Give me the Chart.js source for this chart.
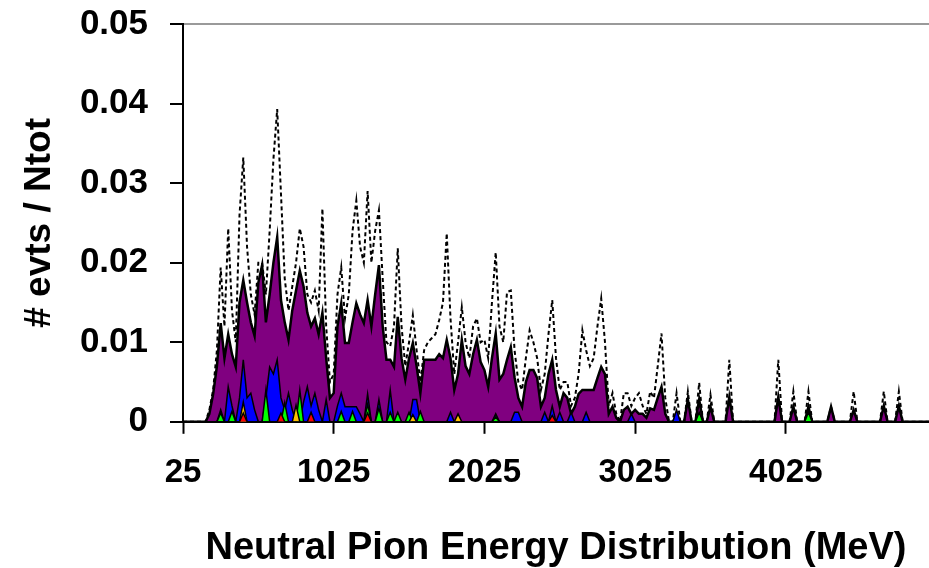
<!DOCTYPE html>
<html>
<head>
<meta charset="utf-8">
<title>Neutral Pion Energy Distribution</title>
<script src="https://cdn.jsdelivr.net/npm/chart.js@4.4.1/dist/chart.umd.min.js"></script>
<style>
  html, body { margin: 0; padding: 0; background: #fff; }
  #wrap { width: 929px; height: 568px; }
</style>
</head>
<body>
<div id="wrap"><canvas id="myChart" width="929" height="568"></canvas></div>
<script>
// energy bins, 25 MeV wide
var energies = [
  25, 50, 75, 100, 125, 150, 175, 200, 225, 250,
  275, 300, 325, 350, 375, 400, 425, 450, 475, 500,
  525, 550, 575, 600, 625, 650, 675, 700, 725, 750,
  775, 800, 825, 850, 875, 900, 925, 950, 975, 1000,
  1025, 1050, 1075, 1100, 1125, 1150, 1175, 1200, 1225, 1250,
  1275, 1300, 1325, 1350, 1375, 1400, 1425, 1450, 1475, 1500,
  1525, 1550, 1575, 1600, 1625, 1650, 1675, 1700, 1725, 1750,
  1775, 1800, 1825, 1850, 1875, 1900, 1925, 1950, 1975, 2000,
  2025, 2050, 2075, 2100, 2125, 2150, 2175, 2200, 2225, 2250,
  2275, 2300, 2325, 2350, 2375, 2400, 2425, 2450, 2475, 2500,
  2525, 2550, 2575, 2600, 2625, 2650, 2675, 2700, 2725, 2750,
  2775, 2800, 2825, 2850, 2875, 2900, 2925, 2950, 2975, 3000,
  3025, 3050, 3075, 3100, 3125, 3150, 3175, 3200, 3225, 3250,
  3275, 3300, 3325, 3350, 3375, 3400, 3425, 3450, 3475, 3500,
  3525, 3550, 3575, 3600, 3625, 3650, 3675, 3700, 3725, 3750,
  3775, 3800, 3825, 3850, 3875, 3900, 3925, 3950, 3975, 4000,
  4025, 4050, 4075, 4100, 4125, 4150, 4175, 4200, 4225, 4250,
  4275, 4300, 4325, 4350, 4375, 4400, 4425, 4450, 4475, 4500,
  4525, 4550, 4575, 4600, 4625, 4650, 4675, 4700, 4725, 4750,
  4775, 4800, 4825, 4850, 4875, 4900, 4925, 4950, 4975
];

// labelled energies on the x axis
var xTickLabels = ["25", "1025", "2025", "3025", "4025"];
var yTicks = [0, 0.01, 0.02, 0.03, 0.04, 0.05];

// all events (dashed)
var allEvts = [
  0, 0, 0, 0, 0, 0, 0, .0015, .0040, .0090,
  .0194, .0120, .0243, .0140, .0100, .0260, .0332, .0220, .0160, .0135,
  .0200, .0200, .0160, .0240, .0330, .0393, .0287, .0180, .0140, .0170,
  .0200, .0243, .0220, .0160, .0150, .0165, .0140, .0268, .0120, .0050,
  .0060, .0160, .0194, .0130, .0160, .0240, .0278, .0220, .0200, .0290,
  .0200, .0240, .0266, .0180, .0100, .0095, .0120, .0218, .0120, .0070,
  .0100, .0134, .0090, .0050, .0090, .0100, .0105, .0110, .0128, .0150, .0237,
  .0130, .0060, .0100, .0144, .0100, .0080, .0120, .0130, .0100, .0103,
  .0080, .0150, .0213, .0120, .0100, .0163, .0165, .0090, .0050, .0040,
  .0080, .0115, .0100, .0080, .0040, .0060, .0110, .0153, .0080, .0040,
  .0050, .0050, .0020, .0030, .0060, .0115, .0090, .0070, .0080, .0120,
  .0155, .0100, .0020, .0036, .0010, 0, .0036, .0036, .0020, .0030,
  .0036, .0020, .0010, .0038, .0030, .0070, .0111, .0030, 0, 0,
  .0036, 0, 0, .0038, 0, 0, .0049, 0, 0, .0034,
  0, 0, 0, 0, .0078, 0, 0, 0, 0, 0,
  0, 0, 0, 0, 0, 0, 0, .0078, 0, 0,
  0, .0038, 0, 0, 0, .0038, 0, 0, 0, 0,
  0, .0019, 0, 0, 0, 0, 0, .0038, 0, 0,
  0, 0, 0, 0, 0, .0038, 0, 0, 0, .0038,
  0, 0, 0, 0, 0, 0, 0, 0
];

var purple = [
  0, 0, 0, 0, 0, 0, 0, .0010, .0035, .0070,
  .0124, .0080, .0110, .0085, .0069, .0150, .0178, .0150, .0125, .0108,
  .0175, .0197, .0125, .0160, .0200, .0232, .0153, .0125, .0103, .0140,
  .0165, .0190, .0170, .0137, .0120, .0130, .0110, .0137, .0080, .0030,
  .0036, .0120, .0149, .0099, .0099, .0125, .0149, .0135, .0124, .0153,
  .0120, .0160, .0197, .0120, .0078, .0078, .0069, .0132, .0080, .0053,
  .0080, .0099, .0070, .0036, .0078, .0078, .0078, .0078, .0085, .0080, .0103,
  .0080, .0040, .0060, .0103, .0070, .0060, .0085, .0103, .0075, .0065,
  .0044, .0080, .0111, .0053, .0060, .0078, .0094, .0056, .0030, .0019,
  .0050, .0065, .0065, .0055, .0019, .0030, .0060, .0078, .0040, .0019,
  .0036, .0030, .0010, .0019, .0035, .0040, .0040, .0040, .0040, .0055,
  .0069, .0060, .0010, .0019, .0005, 0, .0015, .0019, .0010, .0015,
  .0010, .0010, .0005, .0017, .0015, .0030, .0044, .0010, 0, 0,
  .0008, 0, 0, .0028, 0, 0, .0028, 0, 0, .0019,
  0, 0, 0, 0, .0031, 0, 0, 0, 0, 0,
  0, 0, 0, 0, 0, 0, 0, .0031, 0, 0,
  0, .0019, 0, 0, 0, .0019, 0, 0, 0, 0,
  0, .0019, 0, 0, 0, 0, 0, .0015, 0, 0,
  0, 0, 0, 0, 0, .0020, 0, 0, 0, .0020,
  0, 0, 0, 0, 0, 0, 0, 0
];

var blue = [
  0, 0, 0, 0, 0, 0, 0, 0, 0, 0,
  .0015, 0, .0044, .0020, 0, .0030, .0078, .0030, .0036, .0015,
  0, 0, .0030, .0069, .0060, .0078, .0030, .0015, .0036, .0015,
  0, 0, .0025, .0044, .0020, .0036, .0015, 0, .0028, 0,
  0, .0020, .0036, .0019, .0019, .0019, .0019, .0010, 0, .0035,
  0, 0, .0028, 0, 0, .0040, 0, 0, 0, 0,
  0, .0028, .0028, 0, 0, 0, 0, 0, 0, 0, 0,
  .0012, 0, 0, 0, 0, 0, 0, 0, 0, 0,
  0, 0, .0010, 0, 0, 0, 0, .0012, .0012, 0,
  0, 0, 0, 0, 0, .0012, 0, .0020, 0, .0012,
  0, 0, .0012, 0, 0, 0, .0012, 0, 0, 0,
  0, 0, 0, 0, 0, 0, 0, 0, .0010, 0,
  0, 0, 0, 0, 0, 0, 0, 0, 0, 0,
  .0015, 0, 0, 0, 0, 0, 0, 0, 0, 0,
  0, 0, 0, 0, 0, 0, 0, 0, 0, 0,
  0, 0, 0, 0, 0, 0, 0, 0, 0, 0,
  0, 0, 0, 0, 0, 0, 0, 0, 0, 0,
  0, 0, 0, 0, 0, 0, 0, 0, 0, 0,
  0, 0, 0, 0, 0, 0, 0, 0, 0, 0,
  0, 0, 0, 0, 0, 0, 0, 0
];

var green = [
  0, 0, 0, 0, 0, 0, 0, 0, 0, 0,
  .0011, 0, 0, .0013, 0, 0, 0, 0, 0, 0,
  0, 0, .0040, 0, 0, 0, 0, .0024, 0, 0,
  0, .0040, 0, 0, 0, 0, 0, 0, 0, 0,
  0, 0, .0013, 0, 0, .0013, 0, 0, 0, .0022,
  0, 0, .0017, 0, 0, .0012, 0, .0012, 0, 0,
  .0012, 0, 0, .0013, 0, 0, 0, 0, 0, 0, 0,
  0, 0, 0, 0, 0, 0, 0, 0, 0, 0,
  0, 0, .0006, 0, 0, 0, 0, 0, 0, 0,
  0, 0, 0, 0, 0, 0, 0, 0, 0, 0,
  0, 0, 0, 0, 0, 0, 0, 0, 0, 0,
  0, 0, 0, 0, 0, 0, 0, 0, 0, 0,
  0, 0, 0, 0, 0, 0, 0, 0, 0, 0,
  0, 0, 0, 0, 0, 0, .0012, 0, 0, 0,
  0, 0, 0, 0, 0, 0, 0, 0, 0, 0,
  0, 0, 0, 0, 0, 0, 0, 0, 0, 0,
  0, 0, 0, 0, 0, .0012, 0, 0, 0, 0,
  0, 0, 0, 0, 0, 0, 0, 0, 0, 0,
  0, 0, 0, 0, 0, 0, 0, 0, 0, 0,
  0, 0, 0, 0, 0, 0, 0, 0
];

var red = [
  0, 0, 0, 0, 0, 0, 0, 0, 0, 0,
  0, 0, 0, 0, 0, 0, .0011, 0, 0, 0,
  0, 0, 0, 0, 0, 0, .0011, 0, 0, 0,
  0, 0, 0, 0, .0012, 0, 0, 0, 0, 0,
  0, 0, 0, 0, 0, 0, 0, 0, 0, .0011,
  0, 0, 0, 0, 0, 0, 0, 0, 0, 0,
  0, 0, 0, 0, 0, 0, 0, 0, 0, 0, 0,
  0, 0, 0, 0, 0, 0, 0, 0, 0, 0,
  0, 0, 0, 0, 0, 0, 0, 0, 0, 0,
  0, 0, 0, 0, 0, 0, 0, .0008, 0, 0,
  0, 0, 0, 0, 0, 0, 0, 0, 0, 0,
  0, 0, 0, 0, 0, 0, 0, 0, 0, 0,
  0, 0, 0, 0, 0, 0, 0, 0, 0, 0,
  0, 0, 0, 0, 0, 0, 0, 0, 0, 0,
  0, 0, 0, 0, 0, 0, 0, 0, 0, 0,
  0, 0, 0, 0, 0, 0, 0, 0, 0, 0,
  0, 0, 0, 0, 0, 0, 0, 0, 0, 0,
  0, 0, 0, 0, 0, 0, 0, 0, 0, 0,
  0, 0, 0, 0, 0, 0, 0, 0, 0, 0,
  0, 0, 0, 0, 0, 0, 0, 0
];

var orange = [
  0, 0, 0, 0, 0, 0, 0, 0, 0, 0,
  0, 0, 0, 0, 0, 0, .0025, 0, 0, 0,
  0, 0, 0, 0, 0, 0, 0, 0, 0, 0,
  .0021, 0, 0, 0, 0, 0, 0, 0, 0, 0,
  0, 0, 0, 0, 0, 0, 0, 0, 0, 0,
  0, 0, 0, 0, 0, 0, 0, 0, 0, 0,
  0, .0009, 0, 0, 0, 0, 0, 0, 0, 0, 0,
  0, 0, .0010, 0, 0, 0, 0, 0, 0, 0,
  0, 0, 0, 0, 0, 0, 0, 0, 0, 0,
  0, 0, 0, 0, 0, 0, 0, 0, 0, 0,
  0, 0, 0, 0, 0, 0, 0, 0, 0, 0,
  0, 0, 0, 0, 0, 0, 0, 0, 0, 0,
  0, 0, 0, 0, 0, 0, 0, 0, 0, 0,
  0, 0, 0, 0, 0, 0, 0, 0, 0, 0,
  0, 0, 0, 0, 0, 0, 0, 0, 0, 0,
  0, 0, 0, 0, 0, 0, 0, 0, 0, 0,
  0, 0, 0, 0, 0, 0, 0, 0, 0, 0,
  0, 0, 0, 0, 0, 0, 0, 0, 0, 0,
  0, 0, 0, 0, 0, 0, 0, 0, 0, 0,
  0, 0, 0, 0, 0, 0, 0, 0
];

var FONT = "'Liberation Sans', Arial, sans-serif";

function area(data, color, width, order) {
    return {
        data: data,
        fill: 'origin',
        backgroundColor: color,
        borderColor: '#000',
        borderWidth: width,
        pointRadius: 0,
        tension: 0,
        order: order
    };
}

var ctx = document.getElementById("myChart");
var myChart = new Chart(ctx, {
    type: 'line',
    data: {
        labels: energies,
        datasets: [
            {
                data: allEvts,
                fill: false,
                borderColor: '#000',
                borderWidth: 2,
                borderDash: [4, 3],
                pointRadius: 0,
                tension: 0,
                order: 0
            },
            area(red, '#ff0000', 1.5, 1),
            area(orange, '#ffc000', 1.5, 2),
            area(green, '#00ff00', 1.5, 3),
            area(blue, '#0000ff', 1.5, 4),
            area(purple, '#800080', 2.5, 5)
        ]
    },
    options: {
        responsive: false,
        animation: false,
        devicePixelRatio: 1,
        layout: { padding: { top: 24, right: 0, bottom: 0, left: 0 } },
        plugins: {
            legend: { display: false },
            tooltip: { enabled: false }
        },
        scales: {
            x: {
                type: 'category',
                offset: false,
                z: 1,
                afterFit: function(scale) {
                    scale.paddingLeft = 0;
                    scale.paddingRight = 0;
                },
                border: { display: true, color: '#000', width: 2 },
                grid: {
                    display: true,
                    drawOnChartArea: false,
                    drawTicks: true,
                    tickLength: 12,
                    tickWidth: 2,
                    tickColor: function(c) {
                        return xTickLabels.indexOf(String(energies[c.index])) >= 0 ? '#000' : 'rgba(0,0,0,0)';
                    }
                },
                ticks: {
                    autoSkip: false,
                    maxRotation: 0,
                    minRotation: 0,
                    padding: 19,
                    color: '#000',
                    font: { family: FONT, size: 33, weight: 'bold' },
                    callback: function(val, i) {
                        var s = String(energies[i]);
                        return xTickLabels.indexOf(s) >= 0 ? s : '';
                    }
                },
                title: {
                    display: true,
                    text: 'Neutral Pion Energy Distribution (MeV)',
                    color: '#000',
                    font: { family: FONT, size: 38, weight: 'bold' },
                    padding: { top: 14, bottom: -3 }
                }
            },
            y: {
                min: 0,
                max: 0.05,
                z: 1,
                afterBuildTicks: function(scale) {
                    scale.ticks = yTicks.map(function(v) { return { value: v }; });
                },
                afterFit: function(scale) {
                    scale.width = 183;
                    scale.paddingTop = 0;
                    scale.paddingBottom = 0;
                },
                border: { display: true, color: '#000', width: 2 },
                grid: {
                    drawTicks: true,
                    tickLength: 13,
                    tickWidth: 2,
                    tickColor: '#000',
                    lineWidth: 2,
                    color: function(c) {
                        return c.tick && c.tick.value === 0.05 ? '#9a9a9a' : 'rgba(0,0,0,0)';
                    }
                },
                ticks: {
                    padding: 22,
                    color: '#000',
                    font: { family: FONT, size: 35, weight: 'bold' },
                    callback: function(v) { return String(v); }
                },
                title: {
                    display: true,
                    text: '# evts / Ntot',
                    color: '#000',
                    font: { family: FONT, size: 37, weight: 'bold' },
                    padding: { top: 18, bottom: 0 }
                }
            }
        }
    }
});
</script>
</body>
</html>
